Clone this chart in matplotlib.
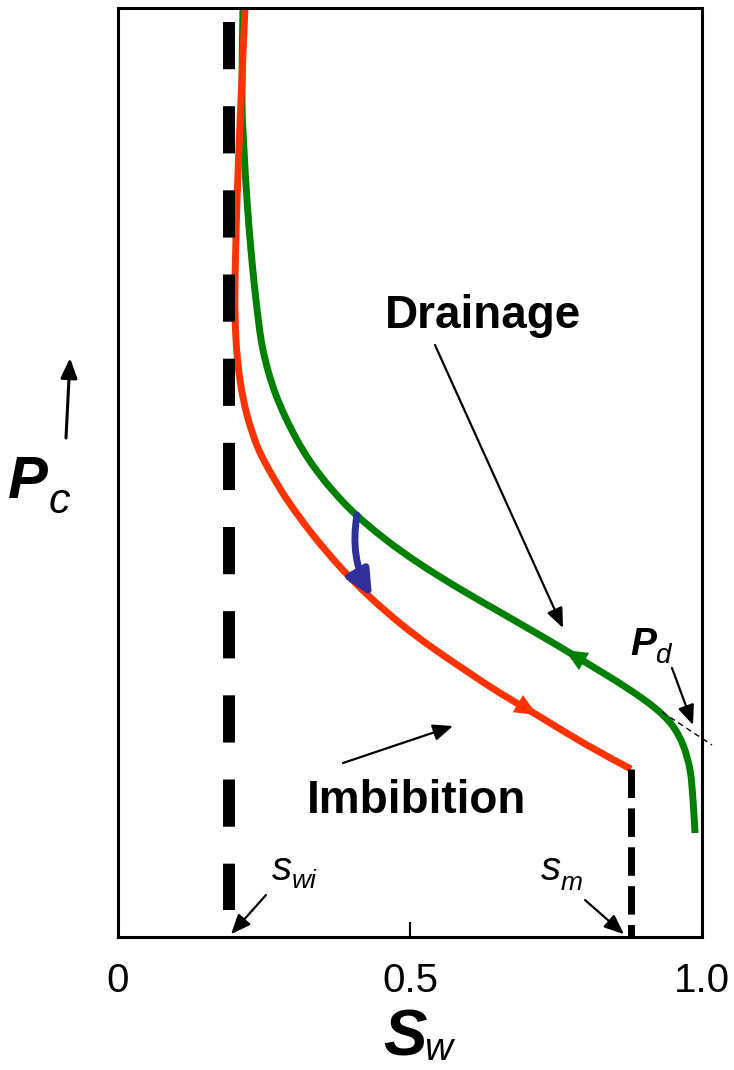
import matplotlib
matplotlib.use("Agg")
import matplotlib.pyplot as plt
import numpy as np
from matplotlib.path import Path
from matplotlib.patches import PathPatch

plt.rcParams['font.family'] = ['Liberation Sans', 'DejaVu Sans']
plt.rcParams['lines.scale_dashes'] = False

# ---- data (Sw fraction, Pc arbitrary units 0..100) ----
imb_sw = [0.2175, 0.2106, 0.2038, 0.2003, 0.2021, 0.2089, 0.2209, 0.2397, 0.2637, 0.2911,
          0.3339, 0.3836, 0.4332, 0.4846, 0.5342, 0.5942, 0.6541, 0.7175, 0.7997, 0.8784]
imb_pc = [100.0, 90.10, 79.33, 69.64, 64.26, 59.96, 56.19, 52.64, 49.73, 46.93,
          43.27, 39.61, 36.49, 33.69, 31.32, 28.74, 26.26, 23.90, 20.78, 18.08]
imb_arrow_idx = 17

dra_sw = [0.2140, 0.2123, 0.2158, 0.2209, 0.2277, 0.2363, 0.2483, 0.2705, 0.3065, 0.3459,
          0.3973, 0.4572, 0.5171, 0.5856, 0.6627, 0.7397, 0.7654, 0.8253, 0.8767, 0.9195,
          0.9486, 0.9675, 0.9795, 0.9846, 0.9880]
dra_pc = [100.0, 90.10, 84.71, 79.33, 73.95, 68.57, 63.19, 58.34, 53.50, 49.73,
          46.07, 42.84, 40.15, 37.46, 34.66, 31.86, 30.89, 28.63, 26.59, 24.65,
          22.82, 20.67, 17.98, 14.75, 11.19]
dra_arrow_idx = 16

swi = 0.190
sm = 0.8784
sm_pc = 18.08
pd_tangent_sw = [0.9315, 1.0171]
pd_tangent_pc = [24.22, 20.67]

xticks = [0, 0.5, 1.0]
xticklabels = ['0', '0.5', '1.0']

RED = '#ff3300'
GREEN = '#008000'
BLUE = '#30309a'


def smooth_path(xs, ys):
    """Catmull-Rom spline through the points, drawn as cubic Bezier segments."""
    P = np.column_stack([xs, ys]).astype(float)
    n = len(P)
    verts = [P[0]]
    codes = [Path.MOVETO]
    for i in range(n - 1):
        p0 = P[i - 1] if i > 0 else P[i]
        p1 = P[i]
        p2 = P[i + 1]
        p3 = P[i + 2] if i + 2 < n else P[i + 1]
        c1 = p1 + (p2 - p0) / 6.0
        c2 = p2 - (p3 - p1) / 6.0
        verts += [c1, c2, p2]
        codes += [Path.CURVE4] * 3
    return Path(verts, codes)


fig = plt.figure(figsize=(7.34, 10.70), dpi=100)
ax = fig.add_axes([118/734, 1 - 937/1070, 584/734, 929/1070])
ax.set_xlim(0, 1)
ax.set_ylim(0, 100)
for s in ax.spines.values():
    s.set_linewidth(2.2)
ax.set_yticks([])
ax.set_xticks(xticks)
ax.set_xticklabels(xticklabels)
ax.tick_params(axis='x', direction='in', length=11, width=1.5, pad=18, labelsize=29)

# Swi dashed line
l, = ax.plot([swi, swi], [(937 - 22) / 9.29, (937 - 910) / 9.29], color='black', lw=8.6,
             solid_capstyle='butt', dash_capstyle='butt')
l.set_dashes((34, 26.6))
# Sm dashed line
l2, = ax.plot([sm, sm], [sm_pc, 0], color='black', lw=5, dash_capstyle='butt', clip_on=False)
l2.set_dashes((20.5, 7.5))

# curves
ax.add_patch(PathPatch(smooth_path(dra_sw, dra_pc), fill=False, edgecolor=GREEN, lw=5,
                       capstyle='butt', joinstyle='round'))
ax.add_patch(PathPatch(smooth_path(imb_sw, imb_pc), fill=False, edgecolor=RED, lw=5,
                       capstyle='butt', joinstyle='round'))

# direction arrowheads on curves
ax.annotate('', xy=(imb_sw[imb_arrow_idx], imb_pc[imb_arrow_idx]),
            xytext=(imb_sw[imb_arrow_idx - 1], imb_pc[imb_arrow_idx - 1]),
            arrowprops=dict(arrowstyle='-|>,head_length=0.4,head_width=0.18', color=RED,
                            lw=0, mutation_scale=40, shrinkA=0, shrinkB=0))
ax.annotate('', xy=(dra_sw[dra_arrow_idx], dra_pc[dra_arrow_idx]),
            xytext=(dra_sw[dra_arrow_idx + 1], dra_pc[dra_arrow_idx + 1]),
            arrowprops=dict(arrowstyle='-|>,head_length=0.4,head_width=0.18', color=GREEN,
                            lw=0, mutation_scale=40, shrinkA=0, shrinkB=0))

# blue curved arrow
ax.annotate('', xy=(0.4349, 36.6), xytext=(0.4092, 45.43),
            arrowprops=dict(arrowstyle='-|>,head_length=0.38,head_width=0.18', color=BLUE,
                            lw=5, mutation_scale=40, shrinkA=0, shrinkB=0,
                            connectionstyle='arc3,rad=0.18'))

# Pd tangent
l3, = ax.plot(pd_tangent_sw, pd_tangent_pc, color='black', lw=1.0, clip_on=False)
l3.set_dashes((4, 3))

thin = dict(arrowstyle='-|>,head_length=0.6,head_width=0.25', color='black', lw=1.6,
            mutation_scale=20, shrinkA=0, shrinkB=0)

# Labels
ax.text(0.6245, 65.55, 'Drainage', fontsize=33, fontweight='bold', ha='center', va='baseline')
ax.annotate('', xy=(0.762, 33.26), xytext=(0.5428, 63.72), arrowprops=thin)
ax.text(0.512, 13.35, 'Imbibition', fontsize=33, fontweight='bold', ha='center', va='baseline')
ax.annotate('', xy=(0.5736, 22.71), xytext=(0.3853, 18.73), arrowprops=thin)

# Pd
ax.text(0.8767, 30.35, 'P', fontsize=28, fontweight='bold', style='italic', ha='left', va='baseline')
ax.text(0.9195, 29.49, 'd', fontsize=20, style='italic', ha='left', va='baseline')
ax.annotate('', xy=(0.9846, 22.82), xytext=(0.9486, 28.96), arrowprops=thin, annotation_clip=False)

# swi, sm
ax.text(0.2637, 6.14, 's', fontsize=29, style='italic', ha='left', va='baseline')
ax.text(0.2980, 5.27, 'wi', fontsize=19, style='italic', ha='left', va='baseline')
ax.annotate('', xy=(0.1935, 0.3), xytext=(0.2534, 4.52), arrowprops=thin)
ax.text(0.7243, 6.14, 's', fontsize=29, style='italic', ha='left', va='baseline')
ax.text(0.7580, 5.06, 'm', fontsize=19, style='italic', ha='left', va='baseline')
ax.annotate('', xy=(0.8664, 0.3), xytext=(0.7997, 3.98), arrowprops=thin)

# axis labels
fig.text(383/734, 1 - 1055/1070, 'S', fontsize=47, fontweight='bold', style='italic',
         ha='left', va='baseline')
fig.text(424/734, 1 - 1060/1070, 'w', fontsize=28, style='italic', ha='left', va='baseline')
fig.text(8/734, 1 - 498/1070, 'P', fontsize=43, fontweight='bold', style='italic',
         ha='left', va='baseline')
fig.text(49/734, 1 - 513/1070, 'c', fontsize=31, style='italic', ha='left', va='baseline')
ax.annotate('', xy=(70, 1070 - 358), xytext=(66, 1070 - 438), xycoords='figure pixels',
            textcoords='figure pixels',
            arrowprops=dict(arrowstyle='-|>,head_length=0.6,head_width=0.25', color='black',
                            lw=2.2, mutation_scale=20, shrinkA=0, shrinkB=0),
            annotation_clip=False)

fig.savefig('out.png', dpi=100)
